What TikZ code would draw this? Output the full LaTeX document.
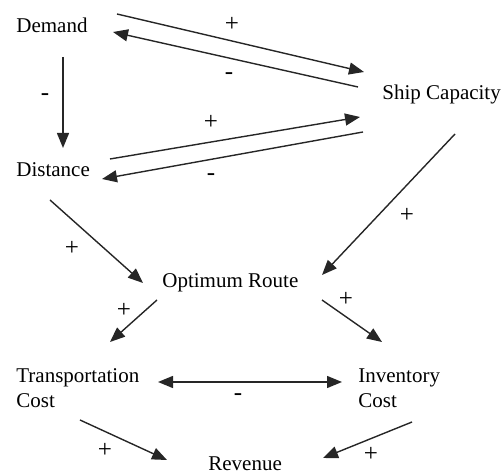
\documentclass[tikz,border=0pt]{standalone}
\usepackage{fontspec}
\setmainfont{Liberation Serif}
\newfontfamily\figfont{Liberation Serif}
\usetikzlibrary{arrows.meta}

\begin{document}
\begin{tikzpicture}[
  x=0.5pt, y=-0.5pt,
  factor/.style={inner sep=0pt, font=\figfont\fontsize{10.5}{12.5}\selectfont, anchor=base west},
  factor2/.style={factor, anchor=west, align=left},
  sgn/.style={inner sep=0pt, font=\figfont\fontsize{12.5}{14}\selectfont},
  link/.style={-{Triangle[length=7.5pt,width=6pt]}, line width=0.7pt, draw=black!85},
  both/.style={link, {Triangle[length=7.5pt,width=6pt]}-{Triangle[length=7.5pt,width=6pt]}}
]
\useasboundingbox (0,0) rectangle (503,474);

\node[factor] (dem) at (16,33) {Demand};
\node[factor] (dist) at (16,177) {Distance};
\node[factor] (ship) at (382,100) {Ship Capacity};
\node[factor] (opt) at (162,288) {Optimum Route};
\node[factor2] (tc) at (16,388) {Transportation\\Cost};
\node[factor2] (ic) at (358,388) {Inventory\\Cost};
\node[factor] (rev) at (208,471) {Revenue};

% top loop
\draw[link] ([shift={(101,-19)}]dem.base west) -- ([shift={(-18,-28)}]ship.base west);
\draw[link] ([shift={(-24,-13)}]ship.base west) -- ([shift={(97,-1)}]dem.base west);
\draw[link] ([shift={(47,24)}]dem.base west) -- ([shift={(47,-29)}]dist.base west);
\draw[link] ([shift={(94,-18)}]dist.base west) -- ([shift={(-22,17)}]ship.base west);
\draw[link] ([shift={(-19,32)}]ship.base west) -- ([shift={(86,2)}]dist.base west);

% route and costs
\draw[link] ([shift={(34,23)}]dist.base west) -- ([shift={(-19,-5)}]opt.base west);
\draw[link] ([shift={(73,34)}]ship.base west) -- ([shift={(160,-13)}]opt.base west);
\draw[link] ([shift={(-5,12)}]opt.base west) -- ([shift={(94,-46)}]tc.west);
\draw[link] ([shift={(160,12)}]opt.base west) -- ([shift={(24,-46)}]ic.west);
\draw[both] ([shift={(142,-6)}]tc.west) -- ([shift={(-16,-6)}]ic.west);
\draw[link] ([shift={(64,32)}]tc.west) -- ([shift={(-41,-11)}]rev.base west);
\draw[link] ([shift={(54,34)}]ic.west) -- ([shift={(115,-13)}]rev.base west);

% polarities
\foreach \s/\x/\y [count=\i] in {+/232/24, -/229/76, -/45/97, +/211/122, -/211/177,
    +/72/248, +/407/215, +/124/310, +/346/299, -/238/397, +/105/450, +/371/454}
  \node[sgn] (s\i) at (\x,\y) {\s};
\end{tikzpicture}
\end{document}
